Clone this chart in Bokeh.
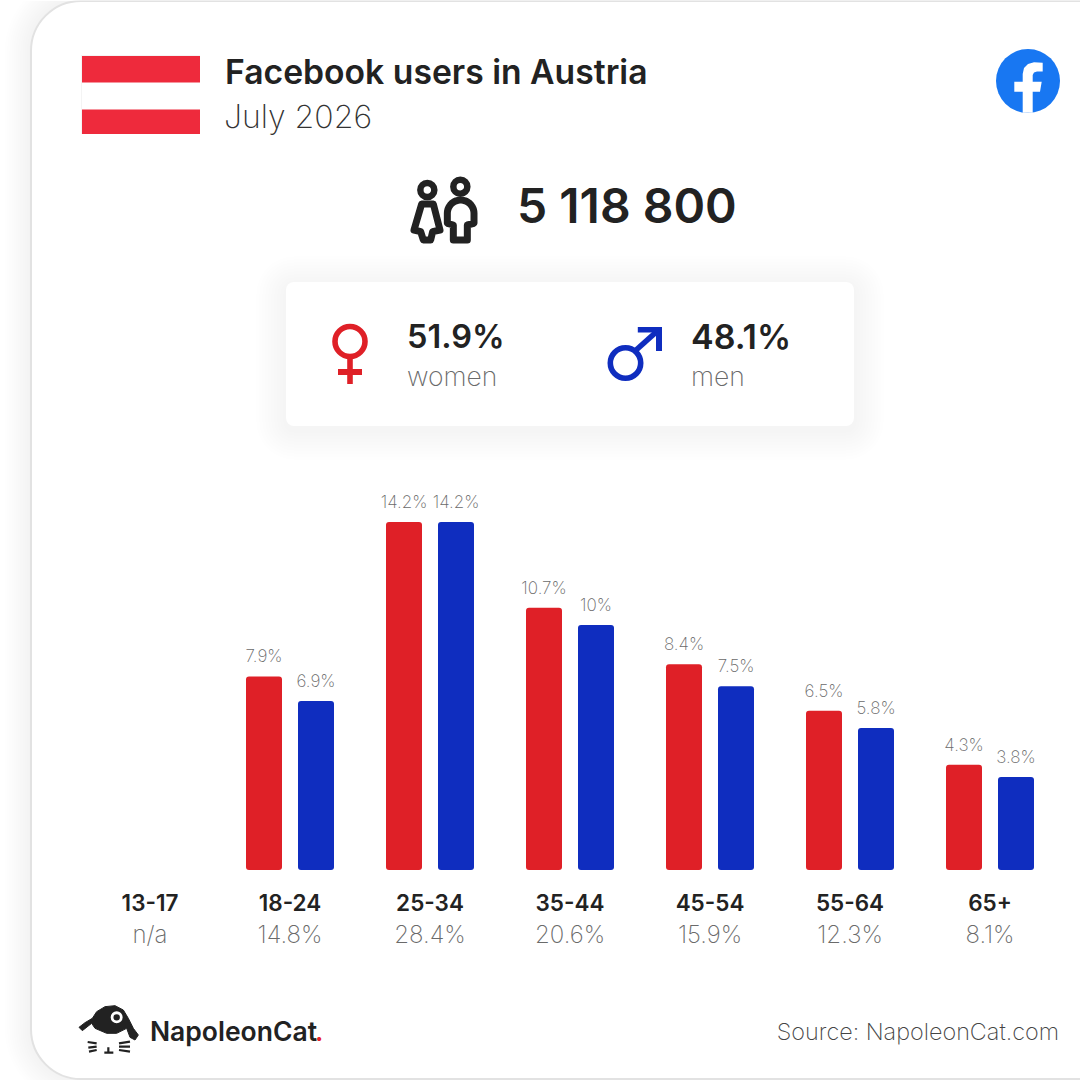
import numpy as np
from bokeh.core.properties import value
from bokeh.embed import file_html
from bokeh.models import ColumnDataSource, Range1d
from bokeh.plotting import figure
from bokeh.resources import INLINE

# ---- data ----
age_groups = ["13-17", "18-24", "25-34", "35-44", "45-54", "55-64", "65+"]
age_totals = ["n/a", "14.8%", "28.4%", "20.6%", "15.9%", "12.3%", "8.1%"]
women_pct = [None, 7.9, 14.2, 10.7, 8.4, 6.5, 4.3]
men_pct = [None, 6.9, 14.2, 10.0, 7.5, 5.8, 3.8]
total_users = "5 118 800"
women_share = "51.9%"
men_share = "48.1%"
title_text = "Facebook users in Austria"
date_text = "July 2026"
source_text = "Source: NapoleonCat.com"

RED, BLUE, INK, GREY = "#DF2027", "#0F2DBF", "#222222", "#6a6a6a"
BOLD = value("Inter SemiBold")
LIGHT = value("Inter ExtraLight")

p = figure(width=1080, height=1080, x_range=Range1d(0.5, 1080.5), y_range=Range1d(1080.5, 0.5),
           output_backend="svg", toolbar_location=None, min_border=0,
           background_fill_color="white", border_fill_color="white", outline_line_color=None)
p.axis.visible = False
p.grid.visible = False

# value scales: one group = 140 px, one percentage point = 24.5 px, baseline at y=870
GW, C0, PPU, BASE = 140.0, 150.0, 24.5, 870.0
p.extra_x_ranges["groups"] = Range1d((0.5 - C0) / GW, (1080.5 - C0) / GW)
p.extra_y_ranges["pct"] = Range1d((BASE - 1080.5) / PPU, (BASE - 0.5) / PPU)


def soft_shadow(l, r, t, b, radius, steps, grow, alpha, dy=0):
    for i in range(steps, 0, -1):
        d = i * grow
        p.quad(left=l - d, right=r + d, top=t - d + dy, bottom=b + d + dy, fill_color="black",
               fill_alpha=alpha, line_color=None, border_radius=int(radius + d))


def label(x, y, s, size, color=INK, font=LIGHT, style="normal", align="left"):
    p.text(x=[x], y=[y], text=[s], text_font=font, text_font_style=style,
           text_font_size=f"{size}px", text_color=color, text_align=align, text_baseline="middle")


# card
soft_shadow(31, 1200, 1, 1079, 50, 12, 2.2, 0.0028)
p.quad(left=31, right=1200, top=1, bottom=1079, fill_color="white", line_color="#e2e2e2",
       line_width=2, border_radius=50)

# flag
p.quad(left=81, right=200, top=55, bottom=134, fill_color="#f4f4f4", line_color=None)
p.quad(left=82, right=200, top=56, bottom=134, fill_color="white", line_color=None)
p.quad(left=[82, 82], right=[200, 200], top=[56, 109.5], bottom=[82.5, 134],
       fill_color="#EE2A3C", line_color=None)

# header
label(225, 71, title_text, 33.7, font=BOLD)
label(224, 116, date_text, 32, color="#333333")

# facebook logo
p.circle(x=[1028], y=[81], radius=32, fill_color="#1877F2", line_color=None)
p.patch([1022.7, 1022.7, 1014.3, 1014.3, 1022.7, 1022.7, 1024, 1028, 1034, 1042.7, 1042.7, 1037,
         1034, 1032.7, 1032.7, 1041.7, 1040, 1032.7, 1032.7],
        [112.8, 91.7, 91.7, 81.7, 81.7, 74, 68, 64, 62.3, 62.8, 71.5, 71.5,
         72.5, 75, 81.7, 81.7, 91.7, 91.7, 112.8], fill_color="white", line_color=None)

# people icon
ox, oy = 390, 160
for cx, cy in [(112, 90), (211, 80)]:
    p.circle(x=[ox + cx / 3], y=[oy + cy / 3], radius=7, fill_color=None, line_color=INK, line_width=6.5)
wx = [95, 130, 150, 128, 122, 100, 92, 72]
wy = [132, 132, 210, 215, 240, 240, 215, 210]
p.patch([ox + v / 3 for v in wx], [oy + v / 3 for v in wy], fill_color=None, line_color=INK,
        line_width=7, line_join="round")
ang = np.linspace(np.pi, 2 * np.pi, 24)
mx = list(212 + 40 * np.cos(ang)) + [252, 232, 232, 190, 190, 172]
my = list(160 + 40 * np.sin(ang)) + [190, 195, 240, 240, 195, 190]
p.patch([ox + v / 3 for v in mx], [oy + v / 3 for v in my], fill_color=None, line_color=INK,
        line_width=7, line_join="round")
label(517, 205, total_users, 48, font=BOLD, color=INK)

# gender panel
soft_shadow(286, 854, 282, 426, 8, 10, 3, 0.003, dy=4)
p.quad(left=286, right=854, top=282, bottom=426, fill_color="white", line_color=None, border_radius=8)
p.circle(x=[350], y=[341.5], radius=15, fill_color=None, line_color=RED, line_width=5.6)
p.quad(left=[347.2, 338], right=[352.8, 362], top=[358, 369], bottom=[384, 375], fill_color=RED, line_color=None)
p.circle(x=[625.5], y=[363], radius=15.2, fill_color=None, line_color=BLUE, line_width=5.6)
p.line([635, 659], [351, 329.5], line_color=BLUE, line_width=5.6)
p.patch([637.8, 662, 662, 656, 656, 637.8], [327, 327, 351, 351, 332.6, 332.6], fill_color=BLUE, line_color=None)
label(407, 336, women_share, 32.5, font=BOLD)
label(407, 376, "women", 26.5, color=GREY)
label(691, 336, men_share, 34, font=BOLD)
label(691, 376, "men", 26.5, color=GREY)

# bars
bar_w, dodge = 36 / GW, 26 / GW
for vals, off, col in [(women_pct, -dodge, RED), (men_pct, dodge, BLUE)]:
    idx = [i for i, v in enumerate(vals) if v is not None]
    src = ColumnDataSource(dict(x=[i + off for i in idx], top=[vals[i] for i in idx],
                                txt=[f"{vals[i]:g}%" for i in idx]))
    p.vbar(x="x", top="top", bottom=0, width=bar_w, source=src, fill_color=col, line_color=None,
           border_radius=3, x_range_name="groups", y_range_name="pct")
    p.text(x="x", y="top", text="txt", source=src, x_range_name="groups", y_range_name="pct",
           y_offset=-20, text_align="center", text_baseline="middle", text_font=LIGHT,
           text_font_size="17px", text_color=GREY)

# age labels
src = ColumnDataSource(dict(x=list(range(len(age_groups))), age=age_groups, tot=age_totals))
p.text(x="x", y=0, text="age", source=src, x_range_name="groups", y_range_name="pct", y_offset=32,
       text_align="center", text_baseline="middle", text_font=BOLD,
       text_font_size="22.5px", text_color=INK)
p.text(x="x", y=0, text="tot", source=src, x_range_name="groups", y_range_name="pct", y_offset=64,
       text_align="center", text_baseline="middle", text_font=LIGHT, text_font_size="24px", text_color=GREY)

# NapoleonCat logo
lx, ly = 75, 1000
bx = [12, 30, 52, 65, 90, 120, 145, 160, 175, 190, 180, 165, 155, 125, 95, 60, 50, 22]
by = [82, 68, 55, 35, 20, 17, 30, 55, 85, 105, 120, 112, 85, 100, 100, 85, 70, 92]
p.patch([lx + v / 3 for v in bx], [ly + v / 3 for v in by], fill_color=INK, line_color=INK, line_join="round")
p.circle(x=[lx + 125 / 3], y=[ly + 52 / 3], radius=6, fill_color="white", line_color=None)
p.circle(x=[lx + 125 / 3], y=[ly + 52 / 3], radius=3.2, fill_color=INK, line_color=None)
whisk = [([38, 65], [126, 130]), ([40, 65], [143, 140]), ([42, 65], [155, 150]),
         ([132, 165], [130, 125]), ([132, 165], [140, 140]), ([132, 165], [150, 155]),
         ([100, 100], [142, 158]), ([88, 115], [158, 158])]
p.multi_line([[lx + v / 3 for v in a] for a, _ in whisk], [[ly + v / 3 for v in b] for _, b in whisk],
             line_color=INK, line_width=2.2)
label(150, 1031, "NapoleonCat", 26.5, font=BOLD)
label(315, 1031, ".", 26, color="#E8202A", font=BOLD)
label(1059, 1031, source_text, 23.4, color="#444444", align="right")

open("out.html", "w").write(file_html(p, INLINE))
